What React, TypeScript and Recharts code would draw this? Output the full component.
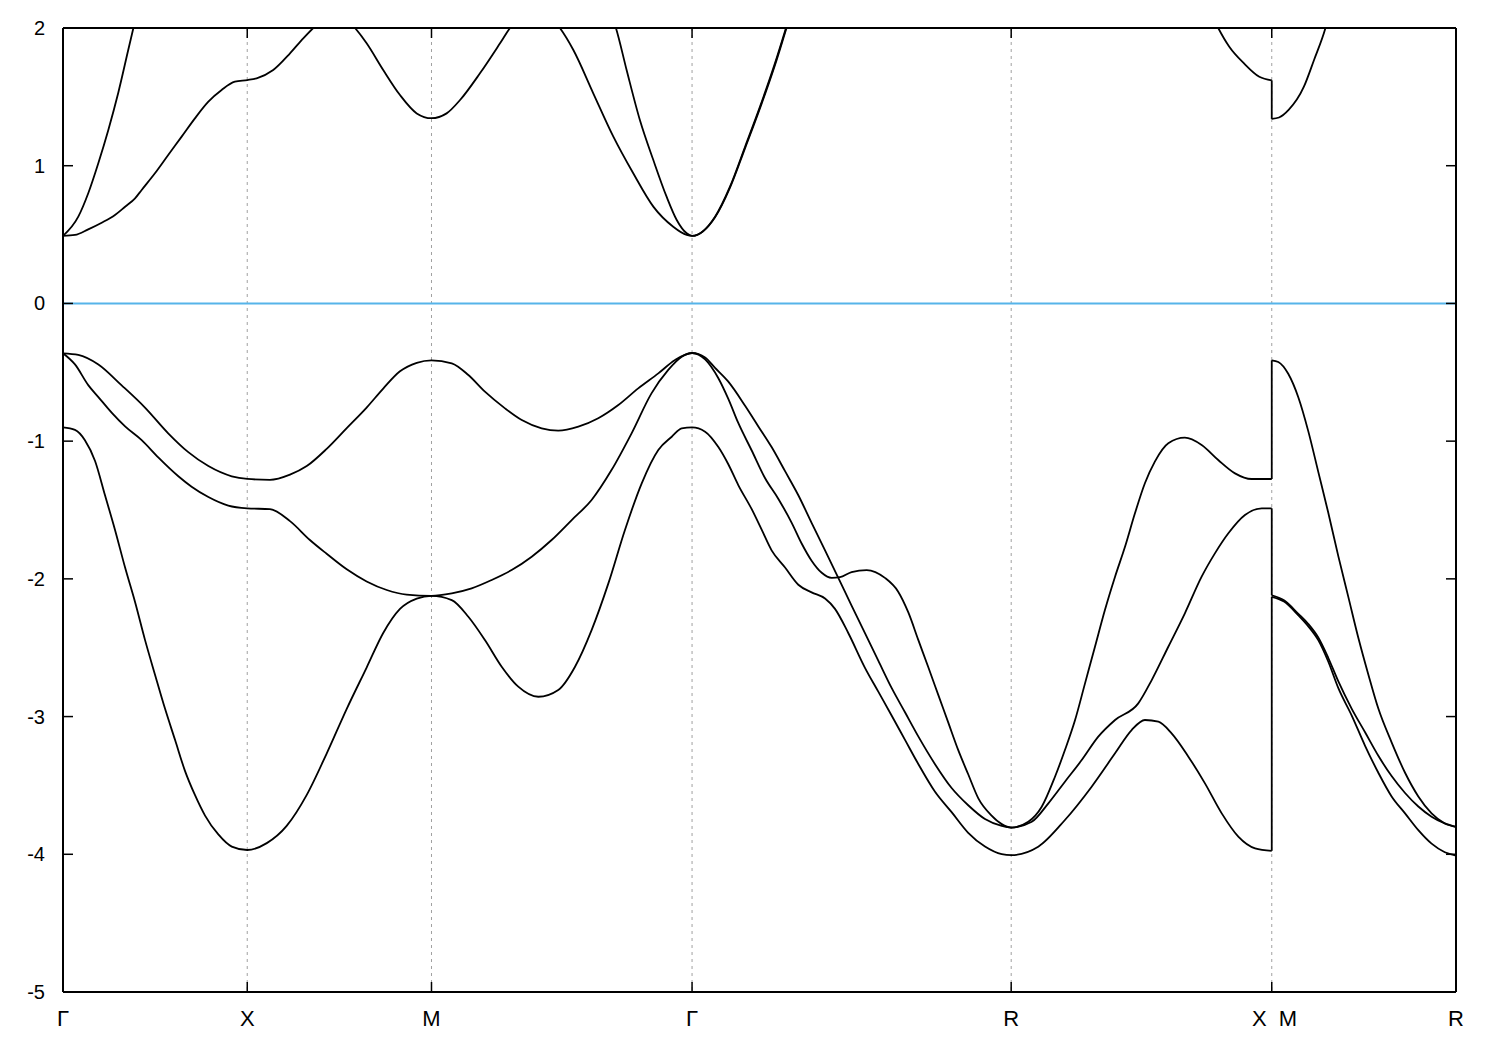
import { LineChart, Line, XAxis, YAxis, CartesianGrid, ReferenceLine } from 'recharts'

type Pt = [number, number | null]

const FONT = '"Liberation Sans", Arial, sans-serif'

// path: Γ-X-M-Γ-R-X | M-R, distance in units of |Γ-X|
const kTicks = [0, 1, 2, 3.4142, 5.1463, 6.5605, 7.5605]
const kLabels = ['Γ', 'X', 'M', 'Γ', 'R', 'X|M', 'R']
const eTicks = [-5, -4, -3, -2, -1, 0, 1, 2]

// conduction bands (a = Γ..X, b = M..R)
const c1a: Pt[] = [
  [0, 0.49], [0.065, 0.497], [0.137, 0.538], [0.21, 0.586], [0.282, 0.642], [0.337, 0.702], [0.391, 0.763], [0.427, 0.824], [0.499, 0.945], [0.571, 1.078], [0.644, 1.211], [0.716, 1.344], [0.789, 1.465], [0.861, 1.55], [0.933, 1.61], [1, 1.622],
  [1.051, 1.635], [1.141, 1.695], [1.232, 1.816], [1.304, 1.925], [1.358, 2.0], [1.471, 2.14], [1.585, 2.0], [1.648, 1.889], [1.738, 1.695], [1.829, 1.513], [1.92, 1.38], [2, 1.345],
  [2.082, 1.38], [2.155, 1.477], [2.263, 1.671], [2.372, 1.889], [2.426, 2.0], [2.562, 2.16], [2.697, 2.0], [2.77, 1.84], [2.878, 1.526], [2.987, 1.211], [3.095, 0.945], [3.204, 0.703], [3.312, 0.557], [3.385, 0.497], [3.4142, 0.49],
  [3.539, 0.63], [3.62, 0.848], [3.702, 1.138], [3.783, 1.429], [3.864, 1.743], [3.924, 2.0], [3.96, 2.16],
  [5.0, null],
  [6.24, 2.08], [6.27, 2.0], [6.33, 1.864], [6.41, 1.743], [6.493, 1.646], [6.5605, 1.62],
]
const c1b: Pt[] = [
  [6.5605, 1.34], [6.6, 1.35], [6.652, 1.405], [6.735, 1.574], [6.79, 1.768], [6.852, 2.0], [6.89, 2.2],
]
const c2a: Pt[] = [
  [0, 0.49], [0.083, 0.63], [0.137, 0.8], [0.192, 1.02], [0.246, 1.26], [0.3, 1.53], [0.354, 1.84], [0.382, 2.0], [0.41, 2.16],
  [1.5, null],
  [2.97, 2.12], [3.001, 2.0], [3.059, 1.695], [3.131, 1.332], [3.204, 1.041], [3.276, 0.775], [3.331, 0.606], [3.385, 0.509], [3.4142, 0.49],
  [3.539, 0.625], [3.62, 0.84], [3.702, 1.128], [3.783, 1.418], [3.864, 1.73], [3.927, 2.0], [3.96, 2.14],
]

// valence bands
const v1a: Pt[] = [
  [0, -0.362], [0.083, -0.373], [0.192, -0.443], [0.317, -0.593], [0.445, -0.756], [0.571, -0.943], [0.68, -1.08], [0.789, -1.181], [0.916, -1.255], [1, -1.274],
  [1.123, -1.281], [1.232, -1.243], [1.323, -1.181], [1.431, -1.056], [1.54, -0.905], [1.648, -0.756], [1.738, -0.618], [1.829, -0.493], [1.92, -0.431], [2, -0.413],
  [2.11, -0.435], [2.2, -0.52], [2.29, -0.641], [2.399, -0.762], [2.49, -0.847], [2.598, -0.907], [2.688, -0.924], [2.797, -0.895], [2.905, -0.834], [3.014, -0.738], [3.122, -0.617], [3.231, -0.508], [3.322, -0.411], [3.4142, -0.36],
  [3.485, -0.406], [3.557, -0.543], [3.611, -0.693], [3.665, -0.868], [3.738, -1.068], [3.81, -1.268], [3.882, -1.418], [3.955, -1.593], [4.009, -1.743], [4.063, -1.868], [4.118, -1.956], [4.172, -1.993], [4.217, -1.988], [4.28, -1.951], [4.362, -1.936], [4.461, -1.993], [4.533, -2.093], [4.588, -2.244], [4.642, -2.443], [4.697, -2.644], [4.751, -2.844], [4.805, -3.044], [4.859, -3.244], [4.913, -3.419], [4.968, -3.594], [5.04, -3.719], [5.095, -3.781], [5.1463, -3.806],
  [5.239, -3.764], [5.312, -3.655], [5.384, -3.437], [5.438, -3.243], [5.493, -3.025], [5.547, -2.759], [5.601, -2.493], [5.655, -2.226], [5.71, -1.984], [5.764, -1.767], [5.818, -1.524], [5.872, -1.306], [5.926, -1.149], [5.999, -1.016], [6.089, -0.975], [6.18, -1.028], [6.27, -1.137], [6.361, -1.234], [6.451, -1.275], [6.5605, -1.275],
]
const v1b: Pt[] = [
  [6.5605, -0.413], [6.596, -0.425], [6.65, -0.511], [6.705, -0.683], [6.759, -0.929], [6.813, -1.223], [6.867, -1.518], [6.922, -1.837], [6.976, -2.131], [7.03, -2.426], [7.085, -2.696], [7.139, -2.942], [7.211, -3.187], [7.284, -3.408], [7.356, -3.58], [7.428, -3.703], [7.5, -3.776], [7.5605, -3.801],
]
const v2a: Pt[] = [
  [0, -0.362], [0.065, -0.443], [0.137, -0.593], [0.192, -0.68], [0.264, -0.793], [0.337, -0.893], [0.427, -0.993], [0.517, -1.118], [0.626, -1.255], [0.698, -1.331], [0.789, -1.406], [0.897, -1.468], [1, -1.488],
  [1.123, -1.494], [1.232, -1.581], [1.34, -1.718], [1.431, -1.818], [1.54, -1.931], [1.648, -2.019], [1.757, -2.081], [1.865, -2.114], [2, -2.123],
  [2.11, -2.105], [2.218, -2.069], [2.327, -2.008], [2.435, -1.936], [2.544, -1.839], [2.652, -1.718], [2.761, -1.573], [2.869, -1.427], [2.977, -1.21], [3.086, -0.943], [3.194, -0.653], [3.285, -0.483], [3.358, -0.387], [3.4142, -0.36],
  [3.485, -0.393], [3.539, -0.468], [3.611, -0.568], [3.702, -0.743], [3.774, -0.893], [3.846, -1.043], [3.919, -1.218], [3.991, -1.393], [4.063, -1.593], [4.136, -1.793], [4.208, -1.993], [4.28, -2.194], [4.352, -2.393], [4.425, -2.594], [4.498, -2.794], [4.57, -2.969], [4.642, -3.144], [4.732, -3.344], [4.823, -3.519], [4.913, -3.644], [5.004, -3.744], [5.095, -3.794], [5.1463, -3.806],
  [5.258, -3.764], [5.348, -3.63], [5.438, -3.473], [5.529, -3.316], [5.619, -3.146], [5.71, -3.025], [5.836, -2.904], [5.909, -2.735], [5.999, -2.493], [6.089, -2.25], [6.18, -1.984], [6.252, -1.815], [6.325, -1.669], [6.415, -1.536], [6.506, -1.488], [6.5605, -1.488],
]
const v2b: Pt[] = [
  [6.5605, -2.119], [6.627, -2.156], [6.705, -2.254], [6.759, -2.328], [6.813, -2.426], [6.867, -2.573], [6.922, -2.745], [6.994, -2.942], [7.067, -3.114], [7.139, -3.285], [7.211, -3.432], [7.284, -3.555], [7.356, -3.653], [7.428, -3.727], [7.5, -3.776], [7.5605, -3.801],
]
const v3a: Pt[] = [
  [0, -0.9], [0.065, -0.918], [0.119, -0.993], [0.174, -1.144], [0.228, -1.393], [0.282, -1.643], [0.337, -1.918], [0.391, -2.168], [0.445, -2.443], [0.499, -2.694], [0.554, -2.944], [0.608, -3.169], [0.662, -3.394], [0.716, -3.569], [0.771, -3.719], [0.843, -3.856], [0.916, -3.944], [1, -3.969],
  [1.106, -3.919], [1.214, -3.794], [1.323, -3.569], [1.431, -3.269], [1.54, -2.944], [1.648, -2.644], [1.738, -2.393], [1.829, -2.218], [1.92, -2.143], [2, -2.123],
  [2.11, -2.154], [2.2, -2.275], [2.29, -2.444], [2.381, -2.638], [2.471, -2.783], [2.58, -2.856], [2.688, -2.807], [2.779, -2.638], [2.869, -2.372], [2.96, -2.033], [3.05, -1.645], [3.141, -1.306], [3.231, -1.064], [3.304, -0.968], [3.358, -0.907], [3.4142, -0.9],
  [3.485, -0.931], [3.557, -1.043], [3.611, -1.168], [3.665, -1.319], [3.738, -1.494], [3.792, -1.643], [3.846, -1.793], [3.919, -1.918], [3.991, -2.043], [4.063, -2.098], [4.136, -2.143], [4.19, -2.218], [4.262, -2.393], [4.352, -2.644], [4.425, -2.819], [4.498, -2.994], [4.57, -3.169], [4.642, -3.344], [4.732, -3.544], [4.823, -3.694], [4.913, -3.844], [5.004, -3.944], [5.095, -3.999], [5.1463, -4.006],
  [5.293, -3.945], [5.438, -3.751], [5.583, -3.509], [5.71, -3.267], [5.8, -3.098], [5.872, -3.025], [5.945, -3.037], [6.017, -3.122], [6.108, -3.291], [6.198, -3.485], [6.289, -3.703], [6.379, -3.872], [6.47, -3.957], [6.5605, -3.975],
]
const v3b: Pt[] = [
  [6.5605, -2.13], [6.627, -2.165], [6.705, -2.265], [6.759, -2.345], [6.813, -2.445], [6.867, -2.6], [6.922, -2.794], [6.994, -2.991], [7.067, -3.212], [7.139, -3.408], [7.211, -3.58], [7.284, -3.703], [7.356, -3.825], [7.428, -3.923], [7.5, -3.985], [7.5605, -4.009],
]

const bands: { id: string; a: Pt[]; b: Pt[] | null }[] = [
  { id: 'c1', a: c1a, b: c1b },
  { id: 'c2', a: c2a, b: null },
  { id: 'v1', a: v1a, b: v1b },
  { id: 'v2', a: v2a, b: v2b },
  { id: 'v3', a: v3a, b: v3b },
]

const rows = (pts: Pt[]) => pts.map(([k, e]) => ({ k, e }))

// gap between axis line and the tick label anchor (tickSize is 0, so x/y = axis -/+ GAP)
const GAP = 18
const TICK = 10
const tickStroke = { stroke: '#000', strokeWidth: 1.5 }

function BottomTick({ x, y, payload }: any) {
  const i = kTicks.findIndex((t) => Math.abs(t - payload.value) < 1e-6)
  const label = kLabels[i] ?? ''
  const txt = { fontSize: 22, fill: '#000', fontFamily: FONT }
  return (
    <g>
      <line x1={x} x2={x} y1={y - GAP} y2={y - GAP - TICK} {...tickStroke} />
      {label === 'X|M' ? (
        <>
          <text x={x - 5} y={y} dy="0.72em" textAnchor="end" {...txt}>X</text>
          <text x={x + 7} y={y} dy="0.72em" textAnchor="start" {...txt}>M</text>
        </>
      ) : (
        <text x={x} y={y} dy="0.72em" textAnchor="middle" {...txt}>{label}</text>
      )}
    </g>
  )
}

function TopTick({ x, y }: any) {
  return <line x1={x} x2={x} y1={y + GAP} y2={y + GAP + TICK} {...tickStroke} />
}

function LeftTick({ x, y, payload }: any) {
  return (
    <g>
      <line x1={x + GAP} x2={x + GAP + TICK} y1={y} y2={y} {...tickStroke} />
      <text x={x} y={y} dy="0.35em" textAnchor="end" fontSize={20} fill="#000" fontFamily={FONT}>
        {payload.value}
      </text>
    </g>
  )
}

function RightTick({ x, y }: any) {
  return <line x1={x - GAP} x2={x - GAP - TICK} y1={y} y2={y} {...tickStroke} />
}

export default function App() {
  const axisLine = { stroke: '#000', strokeWidth: 2 }
  const lineProps = {
    dataKey: 'e',
    stroke: '#000',
    strokeWidth: 1.8,
    dot: false,
    activeDot: false,
    isAnimationActive: false,
  } as const
  return (
    <div style={{ width: 1500, height: 1050, background: '#fff' }}>
      <style>{'body{margin:0}'}</style>
      <LineChart width={1500} height={1050} margin={{ top: 27, right: 0, bottom: 0, left: 0 }}>
        <CartesianGrid horizontal={false} stroke="#a0a0a0" strokeDasharray="3 4" />
        <XAxis
          dataKey="k"
          type="number"
          domain={[0, 7.5605]}
          ticks={kTicks}
          interval={0}
          allowDataOverflow
          height={58}
          axisLine={axisLine}
          tickLine={false}
          tickSize={0}
          tickMargin={GAP}
          tick={<BottomTick />}
        />
        <XAxis
          xAxisId="top"
          orientation="top"
          dataKey="k"
          type="number"
          domain={[0, 7.5605]}
          ticks={kTicks}
          interval={0}
          allowDataOverflow
          height={1}
          axisLine={axisLine}
          tickLine={false}
          tickSize={0}
          tickMargin={GAP}
          tick={<TopTick />}
        />
        <YAxis
          type="number"
          domain={[-5, 2]}
          ticks={eTicks}
          interval={0}
          allowDataOverflow
          width={63}
          axisLine={axisLine}
          tickLine={false}
          tickSize={0}
          tickMargin={GAP}
          tick={<LeftTick />}
        />
        <YAxis
          yAxisId="right"
          orientation="right"
          type="number"
          domain={[-5, 2]}
          ticks={eTicks}
          interval={0}
          allowDataOverflow
          width={44}
          axisLine={axisLine}
          tickLine={false}
          tickSize={0}
          tickMargin={GAP}
          tick={<RightTick />}
        />
        <ReferenceLine y={0} stroke="#56b4e9" strokeWidth={2} />
        {bands.map((b) => (
          <Line key={b.id + 'a'} data={rows(b.a)} type="monotone" {...lineProps} />
        ))}
        {bands.filter((b) => b.b).map((b) => (
          <Line key={b.id + 'b'} data={rows(b.b as Pt[])} type="monotone" {...lineProps} />
        ))}
        {bands.filter((b) => b.b).map((b) => (
          <Line
            key={b.id + 'jump'}
            data={rows([b.a[b.a.length - 1], (b.b as Pt[])[0]])}
            type="linear"
            {...lineProps}
          />
        ))}
      </LineChart>
    </div>
  )
}
